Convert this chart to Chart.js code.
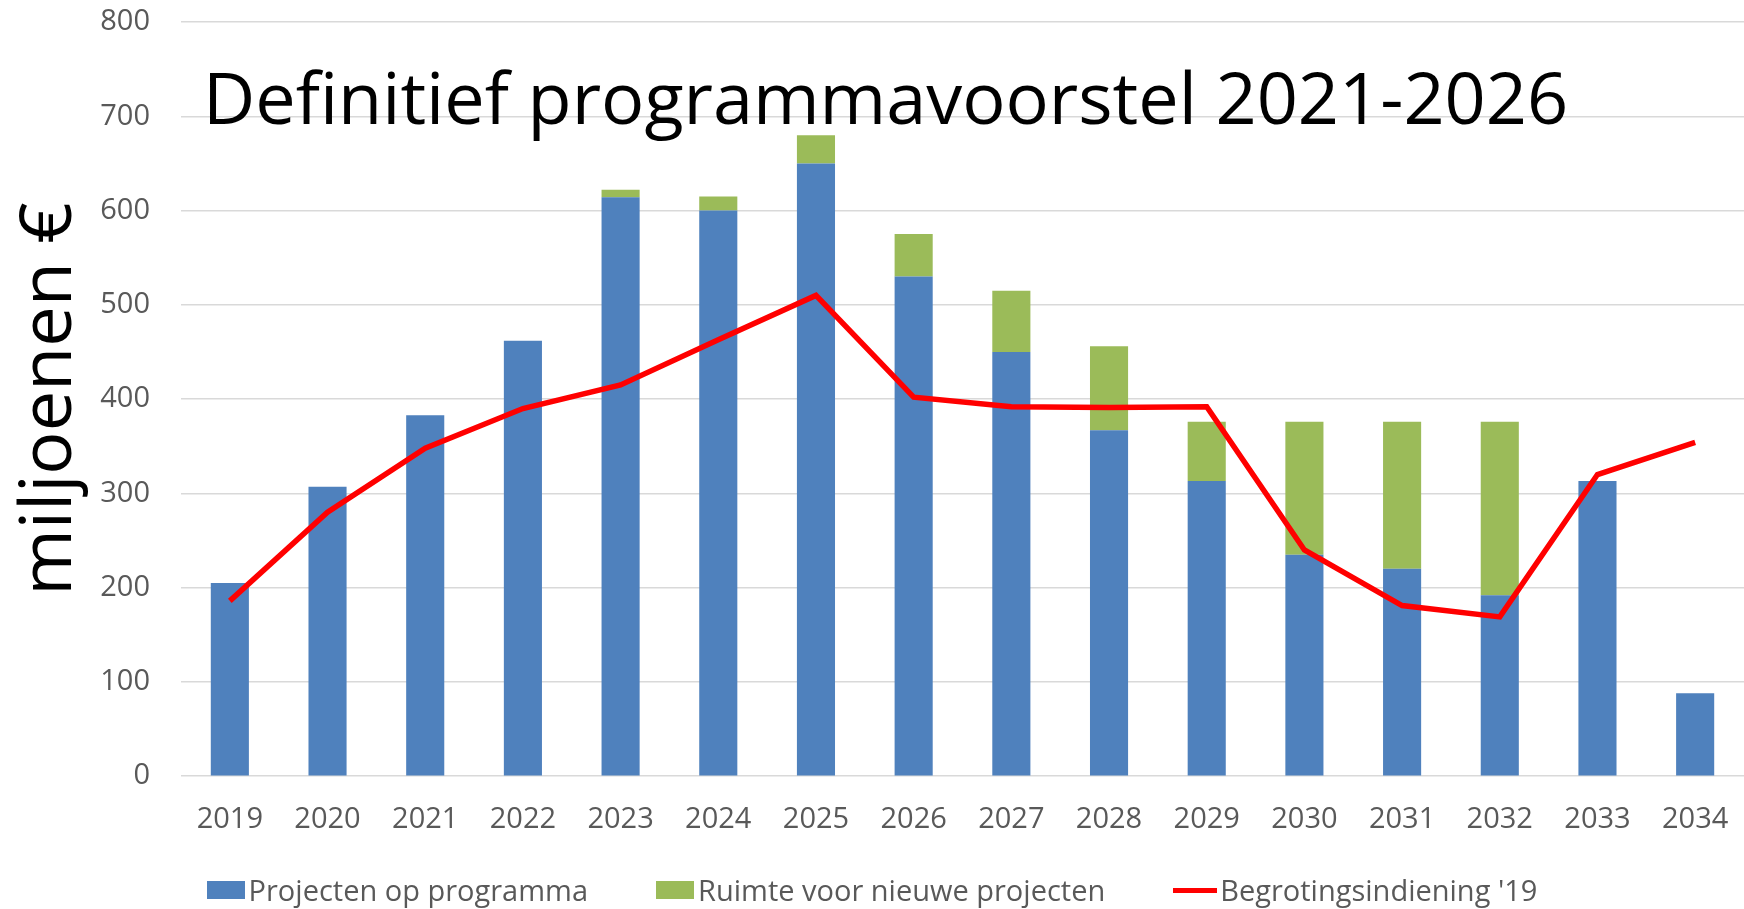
<!DOCTYPE html>
<html>
<head>
<meta charset="utf-8">
<script src="https://cdn.jsdelivr.net/npm/chart.js@4/dist/chart.umd.min.js"></script>
<style>
  html, body { margin: 0; padding: 0; background: #fff; }
  #wrap { position: relative; width: 1744px; height: 909px; }
  #title { position: absolute; left: 203px; top: 60px; font: 72px/1 "Open Sans"; color: #000; white-space: nowrap; }
  #legend { position: absolute; left: 0; top: 876px; width: 1744px; height: 28px; display: flex; justify-content: center; align-items: center; font: 29px/28px "Open Sans"; color: #595959; }
  .item { display: flex; align-items: center; }
  .item + .item { margin-left: 68px; }
  .box { width: 38px; height: 18px; margin-right: 4px; }
  .ln { width: 44px; height: 5px; margin-right: 3px; background: #FF0000; }
</style>
</head>
<body>
<div id="wrap">
  <canvas id="chart" width="1744" height="909"></canvas>
  <div id="title">Definitief programmavoorstel 2021-2026</div>
  <div id="legend">
    <div class="item"><span class="box" style="background:#4F81BD"></span>Projecten op programma</div>
    <div class="item"><span class="box" style="background:#9BBB59"></span>Ruimte voor nieuwe projecten</div>
    <div class="item"><span class="ln"></span>Begrotingsindiening '19</div>
  </div>
</div>
<script>
const years = ['2019', '2020', '2021', '2022', '2023', '2024', '2025', '2026',
               '2027', '2028', '2029', '2030', '2031', '2032', '2033', '2034'];
const projecten = [205, 307, 383, 462, 614, 600, 650, 530, 450, 367, 313, 235, 220, 192, 313, 88];
const ruimte    = [0, 0, 0, 0, 8, 15, 30, 45, 65, 89, 63, 141, 156, 184, 0, 0];
const begroting = [186, 280, 348, 390, 415, 463, 510, 402, 392, 391, 392, 240, 181, 169, 320, 354];

const tickFont = { family: 'Open Sans', size: 29 };

new Chart(document.getElementById('chart'), {
  type: 'bar',
  data: {
    labels: years,
    datasets: [{
      label: 'Projecten op programma',
      data: projecten,
      backgroundColor: '#4F81BD',
      order: 1
    }, {
      label: 'Ruimte voor nieuwe projecten',
      data: ruimte,
      backgroundColor: '#9BBB59',
      order: 1
    }, {
      type: 'line',
      label: "Begrotingsindiening '19",
      data: begroting,
      borderColor: '#FF0000',
      backgroundColor: '#FF0000',
      borderWidth: 5.5,
      pointRadius: 0,
      tension: 0,
      stack: 'line',
      order: 0
    }]
  },
  options: {
    responsive: false,
    animation: false,
    layout: { padding: { top: 0, bottom: 46, left: 0, right: 0 } },
    categoryPercentage: 1,
    barPercentage: 0.39,
    plugins: { legend: { display: false }, tooltip: { enabled: false } },
    scales: {
      x: {
        stacked: true,
        afterFit: (scale) => {
          scale.paddingLeft = 0;
          scale.paddingRight = 0;
        },
        grid: { display: false, drawTicks: false },
        border: { display: false },
        ticks: { color: '#595959', font: tickFont, padding: 26, maxRotation: 0 }
      },
      y: {
        stacked: true,
        min: 0,
        max: 800,
        afterFit: (scale) => {
          scale.width = 181;
          scale.paddingTop = 22;
        },
        grid: { color: '#D9D9D9', lineWidth: 1.5, drawTicks: false },
        border: { display: false },
        ticks: { stepSize: 100, color: '#595959', font: tickFont, padding: 31 },
        title: {
          display: true,
          text: 'miljoenen €',
          color: '#000',
          font: { family: 'Open Sans', size: 72 },
          padding: { top: 7, bottom: 7 }
        }
      }
    }
  }
});
</script>
</body>
</html>
